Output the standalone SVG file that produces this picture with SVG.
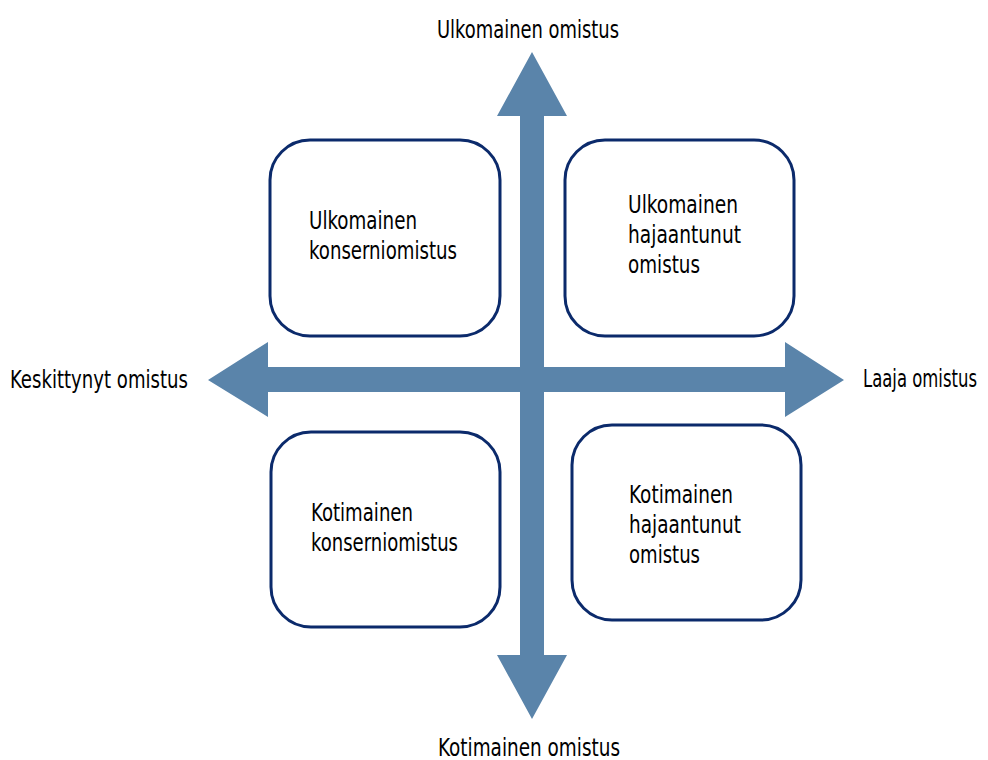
<svg xmlns="http://www.w3.org/2000/svg" width="988" height="760" viewBox="0 0 988 760">
<style>
.box{fill:#fff;stroke:#0b2a6b;stroke-width:3}
.arr{fill:#5a84aa}
text{font-family:"DejaVu Sans Condensed","Liberation Sans Narrow",sans-serif;font-size:24px;fill:#000}
</style>
<rect width="988" height="760" fill="#fff"/>
<g id="connectors">
<polygon class="arr" points="520,116 497,116 532,52 567,116 544,116 544,367 785,367 785,342 844,380 785,417 785,392 544,392 544,655 567,655 532,719 497,655 520,655 520,392 268,392 268,417 208,380 268,342 268,367 520,367"/>
</g>
<g id="n1"><rect class="box" x="270" y="140" width="230" height="196" rx="40"/>
<text x="309" y="229" textLength="108" lengthAdjust="spacingAndGlyphs">Ulkomainen</text><text x="309" y="259" textLength="148" lengthAdjust="spacingAndGlyphs">konserniomistus</text></g>
<g id="n2"><rect class="box" x="565" y="140" width="229" height="196" rx="40"/>
<text x="628" y="213" textLength="110" lengthAdjust="spacingAndGlyphs">Ulkomainen</text><text x="628" y="243" textLength="113" lengthAdjust="spacingAndGlyphs">hajaantunut</text><text x="628" y="273" textLength="72" lengthAdjust="spacingAndGlyphs">omistus</text></g>
<g id="n3"><rect class="box" x="271" y="432" width="229" height="195" rx="40"/>
<text x="311" y="521" textLength="102" lengthAdjust="spacingAndGlyphs">Kotimainen</text><text x="311" y="551" textLength="147" lengthAdjust="spacingAndGlyphs">konserniomistus</text></g>
<g id="n4"><rect class="box" x="572" y="425" width="229" height="195" rx="40"/>
<text x="629" y="503" textLength="104" lengthAdjust="spacingAndGlyphs">Kotimainen</text><text x="629" y="533" textLength="112" lengthAdjust="spacingAndGlyphs">hajaantunut</text><text x="629" y="563" textLength="71" lengthAdjust="spacingAndGlyphs">omistus</text></g>
<g id="labels">
<text x="437" y="38" textLength="182" lengthAdjust="spacingAndGlyphs">Ulkomainen omistus</text>
<text x="438" y="756" textLength="182" lengthAdjust="spacingAndGlyphs">Kotimainen omistus</text>
<text x="10" y="388" textLength="178" lengthAdjust="spacingAndGlyphs">Keskittynyt omistus</text>
<text x="863" y="387" textLength="114" lengthAdjust="spacingAndGlyphs">Laaja omistus</text>
</g>
</svg>
